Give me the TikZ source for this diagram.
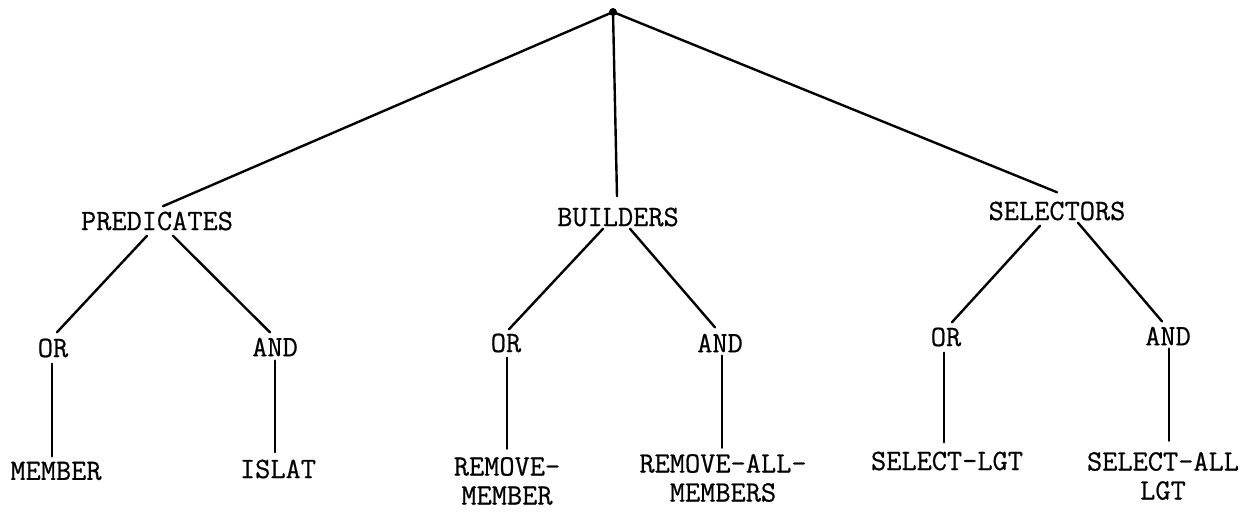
\documentclass[tikz,border=0pt]{standalone}
\usepackage{fontspec}
\newfontfamily\twfont[FakeBold=0.6]{Latin Modern Mono}
\usetikzlibrary{calc}
\begin{document}
\begin{tikzpicture}[x=0.5pt,y=-0.5pt,
  lbl/.style={inner sep=0pt,font=\twfont\fontsize{14.75}{14.5}\selectfont,align=center},
  edge/.style={line width=1.2pt,line cap=round}]
\useasboundingbox (0,0) rectangle (1253,513);
\node[circle,fill,inner sep=0pt,minimum size=4pt] (root) at (613,12) {};
\node[lbl] (pred) at (157,221) {PREDICATES};
\node[lbl] (bld) at (618,217) {BUILDERS};
\node[lbl] (sel) at (1057,211) {SELECTORS};
\node[lbl] (por) at (53,348) {OR};
\node[lbl] (pand) at (275,347) {AND};
\node[lbl] (bor) at (506,343) {OR};
\node[lbl] (band) at (720,343) {AND};
\node[lbl] (sor) at (946,337) {OR};
\node[lbl] (sand) at (1168,336) {AND};
\node[lbl] (member) at (56,471) {MEMBER};
\node[lbl] (islat) at (278,469) {ISLAT};
\node[lbl] (rmm) at (507,481) {REMOVE-\\MEMBER};
\node[lbl] (rmall) at (723,478) {REMOVE-ALL-\\MEMBERS};
\node[lbl] (sellgt) at (947,461) {SELECT-LGT};
\node[lbl] (selall) at (1163,476) {SELECT-ALL\\LGT};
\begin{scope}[edge]
\draw (root.center) -- ($(pred.north)+(6,-5)$);
\draw (root.center) -- ($(bld.north)+(-1,-11)$);
\draw (root.center) -- ($(sel.north)+(0,-9)$);
\draw ($(pred.south)+(-10,5)$) -- ($(por.north)+(4,-6)$);
\draw ($(pred.south)+(16,5)$) -- ($(pand.north)+(-5,-5)$);
\draw ($(por.south)+(-1,6)$) -- ($(member.north)+(-4,-5)$);
\draw ($(pand.south)+(0,4)$) -- ($(islat.north)+(-3,-7)$);
\draw ($(bld.south)+(-15,2)$) -- ($(bor.north)+(3,-4)$);
\draw ($(bld.south)+(12,2)$) -- ($(band.north)+(-5,-6)$);
\draw ($(bor.south)+(1,5)$) -- ($(rmm.north)+(0,-8)$);
\draw ($(band.south)+(2,3)$) -- ($(rmall.north)+(-1,-6)$);
\draw ($(sel.south)+(-17,5)$) -- ($(sor.north)+(6,-5)$);
\draw ($(sel.south)+(21,2)$) -- ($(sand.north)+(-6,-5)$);
\draw ($(sor.south)+(-2,6)$) -- ($(sellgt.north)+(-3,-9)$);
\draw ($(sand.south)+(1,3)$) -- ($(selall.north)+(6,-11)$);
\end{scope}
\end{tikzpicture}
\end{document}
